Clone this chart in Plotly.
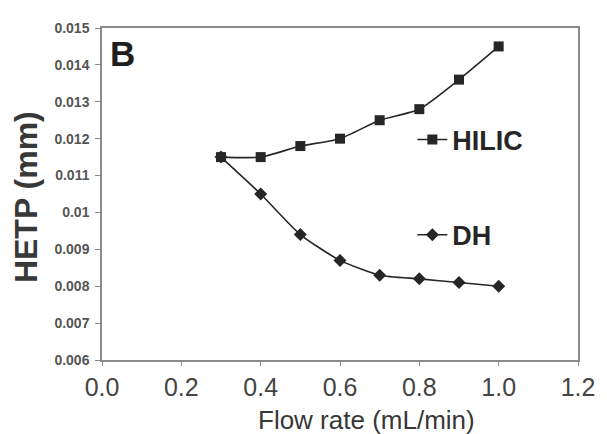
import plotly.graph_objects as go

flow = [0.3, 0.4, 0.5, 0.6, 0.7, 0.8, 0.9, 1.0]
hilic = [0.0115, 0.0115, 0.0118, 0.0120, 0.0125, 0.0128, 0.0136, 0.0145]
dh = [0.0115, 0.0105, 0.0094, 0.0087, 0.0083, 0.0082, 0.0081, 0.0080]

x_ticks = [0.0, 0.2, 0.4, 0.6, 0.8, 1.0, 1.2]
x_tick_text = ["0.0", "0.2", "0.4", "0.6", "0.8", "1.0", "1.2"]
y_ticks = [0.006, 0.007, 0.008, 0.009, 0.010, 0.011, 0.012, 0.013, 0.014, 0.015]
y_tick_text = ["0.006", "0.007", "0.008", "0.009", "0.01", "0.011", "0.012", "0.013", "0.014", "0.015"]

ink = "#262626"

fig = go.Figure()
fig.add_trace(go.Scatter(
    x=flow, y=hilic, name="HILIC", mode="lines+markers",
    line=dict(color=ink, width=1.6, shape="spline", smoothing=0.6),
    marker=dict(symbol="square", size=10, color=ink),
    legend="legend",
))
fig.add_trace(go.Scatter(
    x=flow, y=dh, name="DH", mode="lines+markers",
    line=dict(color=ink, width=1.6, shape="spline", smoothing=0.6),
    marker=dict(symbol="diamond", size=10, color=ink),
    legend="legend2",
))

legend_font = dict(family="Liberation Sans, Arial, sans-serif", size=27, color=ink, weight="bold")
fig.update_layout(
    width=599, height=426,
    margin=dict(l=94, r=23, t=14, b=74),
    paper_bgcolor="white", plot_bgcolor="white",
    showlegend=True,
    legend=dict(x=0.652, y=0.663, xanchor="left", yanchor="middle",
                bgcolor="rgba(0,0,0,0)", font=legend_font, itemwidth=30),
    legend2=dict(x=0.652, y=0.376, xanchor="left", yanchor="middle",
                 bgcolor="rgba(0,0,0,0)", font=legend_font, itemwidth=30),
    xaxis=dict(range=[0, 1.2], tickvals=x_ticks, ticktext=x_tick_text,
               showgrid=False, zeroline=False, showline=True, mirror=True,
               linecolor="#8a8a8a", linewidth=1.5, ticks="outside", ticklen=4,
               tickcolor="#8a8a8a",
               tickfont=dict(family="Liberation Sans, Arial, sans-serif", size=25, color="#444444")),
    yaxis=dict(range=[0.006, 0.015], tickvals=y_ticks, ticktext=y_tick_text,
               showgrid=False, zeroline=False, showline=True, mirror=True,
               linecolor="#8a8a8a", linewidth=1.5, ticks="outside", ticklen=5,
               tickcolor="#8a8a8a", ticklabelstandoff=3,
               tickfont=dict(family="Liberation Sans, Arial, sans-serif", size=14, color="#555555", weight="bold")),
    annotations=[
        dict(text="Flow rate (mL/min)", xref="paper", yref="paper", x=0.555, y=-0.18,
             xanchor="center", yanchor="middle", showarrow=False,
             font=dict(family="Liberation Sans, Arial, sans-serif", size=26, color="#383838")),
        dict(text="HETP (mm)", xref="paper", yref="paper", x=-0.158, y=0.49,
             xanchor="center", yanchor="middle", showarrow=False, textangle=-90,
             font=dict(family="Liberation Sans, Arial, sans-serif", size=32, color="#383838", weight="bold")),
        dict(text="B", xref="paper", yref="paper", x=0.012, y=0.988,
             xanchor="left", yanchor="top", showarrow=False,
             font=dict(family="Liberation Sans, Arial, sans-serif", size=35, color="#1e1e1e", weight="bold")),
    ],
)

fig.write_html("out.html")
